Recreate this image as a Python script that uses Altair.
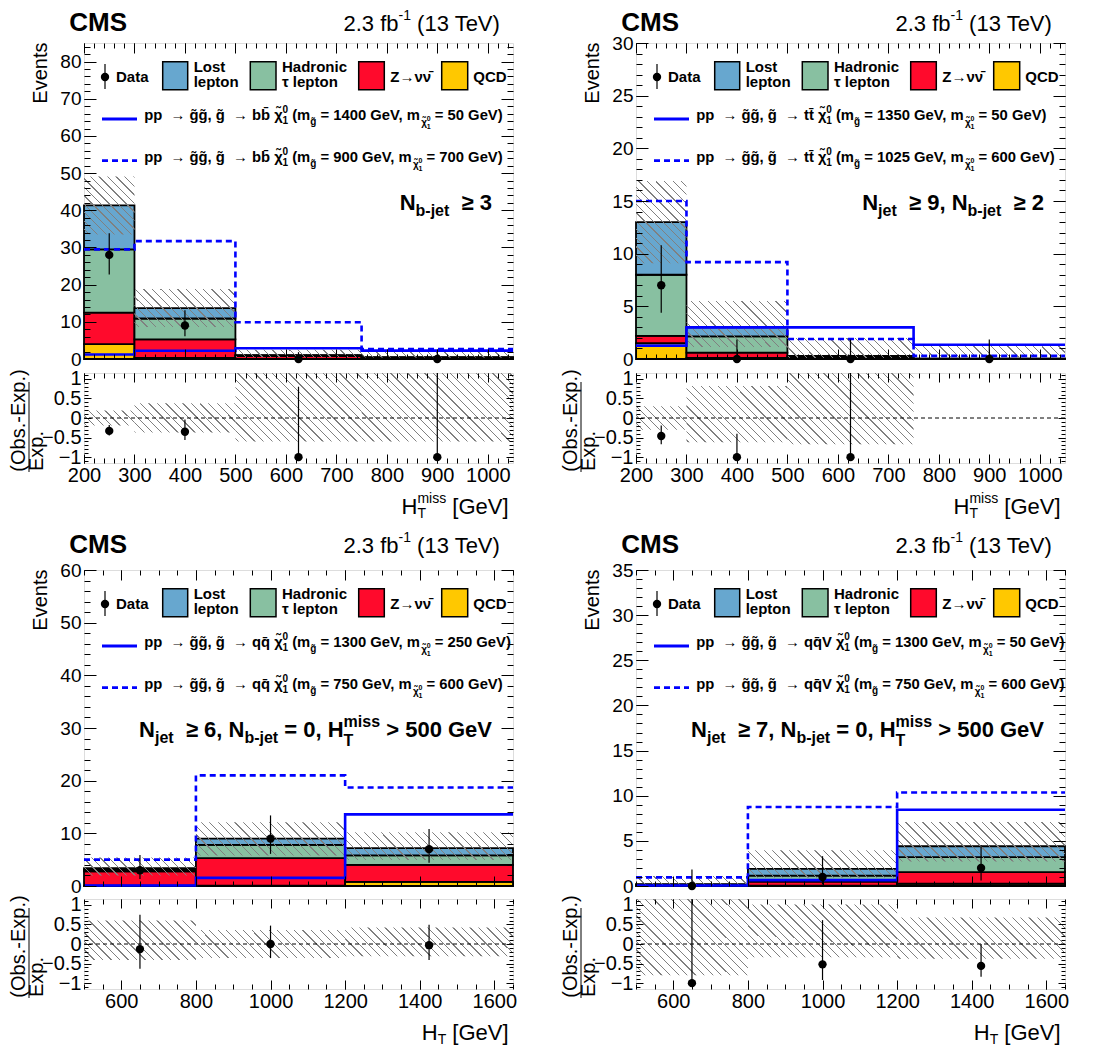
import unicodedata
import altair as alt

FONT = "Liberation Sans"
W, H, RH = 429, 316, 90
NB = "\u00a0"
TIL, BAR = "\u0303", "\u0304"

C_LOST = "#67a7cf"
C_TAU = "#88c0a1"
C_Z = "#ff0a2c"
C_QCD = "#ffc800"
C_HATCH = "#808080"
C_SIG = "#0000ff"

# ---------------- Panel 1: N_b-jet >= 3 ----------------
p1_edges = [200, 300, 500, 750, 1050]
p1_qcd = [4.0, 0.3, 0.05, 0.02]
p1_znn = [8.5, 5.0, 0.75, 0.28]
p1_tau = [17.0, 5.6, 0.15, 0.12]
p1_lost = [11.8, 2.8, 0.07, 0.10]
p1_band_lo = [33.5, 8.6, 0.45, 0.40]
p1_band_hi = [49.1, 18.8, 2.50, 2.20]
p1_rband_lo = [-0.19, -0.37, -0.60, -0.60]
p1_rband_hi = [0.19, 0.38, 1.50, 1.50]
p1_data_x = [250, 400, 625, 900]
p1_data_y = [28, 9, 0, 0]
p1_data_lo = [22.7, 6.1, 0, 0]
p1_data_hi = [33.8, 13.1, 1.84, 1.84]
p1_ratio = [-0.33, -0.35, -1.0, -1.0]
p1_ratio_lo = [-0.45, -0.56, -1.0, -1.0]
p1_ratio_hi = [-0.18, -0.04, 0.80, 2.30]
p1_sig_a = [1.2, 2.2, 2.9, 2.25]
p1_sig_b = [29.5, 31.7, 9.9, 2.7]

# ---------------- Panel 2: N_jet >= 9, N_b-jet >= 2 ----------------
p2_edges = [200, 300, 500, 750, 1050]
p2_qcd = [1.5, 0.1, 0.02, 0.01]
p2_znn = [0.7, 0.5, 0.10, 0.01]
p2_tau = [5.8, 1.55, 0.10, 0.01]
p2_lost = [5.0, 0.85, 0.08, 0.01]
p2_band_lo = [9.1, 1.15, 0.10, 0.15]
p2_band_hi = [16.9, 5.5, 2.0, 1.4]
p2_rband_lo = [-0.30, -0.62, -0.67, None]
p2_rband_hi = [0.30, 0.82, 1.50, None]
p2_data_x = [250, 400, 625, 900]
p2_data_y = [7, 0, 0, 0]
p2_data_lo = [4.4, 0, 0, 0]
p2_data_hi = [10.8, 1.84, 1.84, 1.84]
p2_ratio = [-0.46, -1.0, -1.0, None]
p2_ratio_lo = [-0.67, -1.0, -1.0, None]
p2_ratio_hi = [-0.19, -0.40, 2.0, None]
p2_sig_a = [1.27, 3.0, 3.0, 1.35]
p2_sig_b = [15.0, 9.2, 1.9, 0.3]

# ---------------- Panel 3: N_jet >= 6, N_b-jet = 0 ----------------
p3_edges = [500, 800, 1200, 1650]
p3_qcd = [0.05, 0.05, 0.8]
p3_znn = [2.75, 5.25, 3.2]
p3_tau = [0.3, 2.5, 1.8]
p3_lost = [0.3, 1.2, 1.4]
p3_band_lo = [2.0, 5.8, 4.95]
p3_band_hi = [5.4, 12.1, 10.2]
p3_rband_lo = [-0.41, -0.36, -0.31]
p3_rband_hi = [0.60, 0.36, 0.42]
p3_data_x = [650, 1000, 1425]
p3_data_y = [3, 9, 7]
p3_data_lo = [1.35, 6.1, 4.4]
p3_data_hi = [5.9, 13.4, 10.8]
p3_ratio = [-0.13, 0.0, -0.03]
p3_ratio_lo = [-0.63, -0.36, -0.41]
p3_ratio_hi = [0.75, 0.47, 0.49]
p3_sig_a = [0.1, 1.55, 13.6]
p3_sig_b = [5.0, 21.0, 18.7]

# ---------------- Panel 4: N_jet >= 7, N_b-jet = 0 ----------------
p4_edges = [500, 800, 1200, 1650]
p4_qcd = [0.02, 0.05, 0.25]
p4_znn = [0.08, 0.45, 1.28]
p4_tau = [0.05, 0.65, 1.67]
p4_lost = [0.05, 0.75, 1.2]
p4_band_lo = [0.02, 0.9, 2.7]
p4_band_hi = [1.1, 3.95, 7.1]
p4_rband_lo = [-0.80, -0.34, -0.38]
p4_rband_hi = [1.50, 1.01, 0.68]
p4_data_x = [650, 1000, 1425]
p4_data_y = [0, 1, 2]
p4_data_lo = [0, 0.17, 0.6]
p4_data_hi = [1.84, 3.3, 4.5]
p4_ratio = [-1.0, -0.52, -0.56]
p4_ratio_lo = [-1.0, -0.92, -0.84]
p4_ratio_hi = [3.0, 0.61, 0.0]
p4_sig_a = [0.05, 0.65, 8.45]
p4_sig_b = [0.95, 8.75, 10.35]

# ---------------- text width estimates (Arial / Liberation metrics) ----------------
BOLD_W = dict(zip("abcdefghijklmnopqrstuvwxyz",
                  [.556, .611, .556, .611, .556, .333, .611, .611, .278, .278, .556, .278, .889,
                   .611, .611, .611, .611, .389, .556, .333, .611, .556, .778, .556, .556, .5]))
REG_W = dict(zip("abcdefghijklmnopqrstuvwxyz",
                 [.556, .556, .5, .556, .556, .278, .556, .556, .222, .222, .5, .222, .833,
                  .556, .556, .556, .556, .333, .5, .278, .556, .5, .722, .5, .5, .5]))
CAPS = dict(zip("ABCDEFGHIJKLMNOPQRSTUVWXYZ",
                [.722, .722, .722, .722, .667, .611, .778, .722, .278, .556, .722, .611, .833,
                 .722, .778, .667, .778, .722, .667, .611, .722, .667, .944, .667, .667, .611]))
PUNCT = {" ": .278, NB: .278, "(": .333, ")": .333, ",": .278, ".": .278, "-": .333,
         "=": .584, ">": .584, "[": .333, "]": .333, "≥": .549, "→": 1.0, "χ": .556,
         "ν": .556, "τ": .45}
for _d in "0123456789":
    PUNCT[_d] = .556


def tw(s, size, bold):
    tab = BOLD_W if bold else REG_W
    w = 0.0
    for ch in s:
        if unicodedata.combining(ch):
            continue
        w += tab.get(ch, CAPS.get(ch, PUNCT.get(ch, .556)))
    return w * size


def rich(pieces, x0, y0, anchor="left", bold=True):
    """Lay out text pieces (with sub/superscripts) left to right."""
    rows, x, hold = [], 0.0, 0.0
    for text, size, dy, adv in pieces:
        w = tw(text, size, bold)
        core = text.lstrip(NB + " ")
        lead = tw(text[:len(text) - len(core)], size, bold)
        core = core.rstrip(NB + " ")
        rows.append({"px": x + lead, "py": y0 + dy, "text": core, "size": size})
        if adv:
            x += max(hold, w)
            hold = 0.0
        else:
            hold = max(hold, w)
    shift = x0 if anchor == "left" else x0 - x
    for r in rows:
        r["px"] = round(r["px"] + shift, 2)
    return rows


def sig_pieces(decay, m1, m2):
    chi = "χ" + TIL
    g = "g" + TIL
    fs = 14.8
    head = f"pp{NB}{NB}→{NB}{g}{g},{NB}{g}{NB}{NB}→{NB}{decay}{NB}{chi}"
    return [(head, fs, 0, True), ("0", 10, -7, False), ("1", 10, 4, True),
            (f"{NB}(m", fs, 0, True), (g, 10, 5, True),
            (f"{NB}={NB}{m1}{NB}GeV,{NB}m", fs, 0, True),
            (chi, 10, 6, True), ("0", 7, 1, False), ("1", 7, 9, True),
            (f"{NB}={NB}{m2}{NB}GeV)", fs, 0, True)]


def region_pieces(kind):
    ge = f"{NB}{NB}≥{NB}"
    if kind == 1:
        return [("N", 22, 0, True), ("b-jet", 16, 6, True), (ge + "3", 22, 0, True)]
    if kind == 2:
        return [("N", 22, 0, True), ("jet", 16, 6, True), (ge + f"9,{NB}N", 22, 0, True),
                ("b-jet", 16, 6, True), (ge + "2", 22, 0, True)]
    n = "6" if kind == 3 else "7"
    return [("N", 22, 0, True), ("jet", 16, 6, True), (ge + f"{n},{NB}N", 22, 0, True),
            ("b-jet", 16, 6, True), (f"{NB}={NB}0,{NB}H", 22, 0, True),
            ("miss", 16, -10, False), ("T", 16, 9, True),
            (f"{NB}>{NB}500{NB}GeV", 22, 0, True)]


def frange(a, b, step):
    out, k = [], 0
    while a + k * step <= b + 1e-9:
        out.append(round(a + k * step, 6))
        k += 1
    return out


def hatch(w, h, x0px, ybot, period=8.5, lw=1.0):
    w = max(float(w), 1.0)
    h = max(float(h), 1.0)
    tot = w + h
    s = tot / (w * w + h * h)
    clear = "rgba(255,255,255,0)"
    phase = (-(x0px - ybot)) % period
    thick = lw * 1.4142
    stops = [{"offset": 0, "color": clear}]
    c = phase
    while c < tot:
        a = c / tot
        b = min((c + thick) / tot, 1.0)
        stops += [{"offset": round(a, 5), "color": clear}, {"offset": round(a, 5), "color": C_HATCH},
                  {"offset": round(b, 5), "color": C_HATCH}, {"offset": round(b, 5), "color": clear}]
        c += period
    stops.append({"offset": 1, "color": clear})
    return {"gradient": "linear", "x1": 0, "y1": 1, "x2": round(w * s, 5),
            "y2": round(1 - h * s, 5), "stops": stops}


def mk(ymax, ymaj, ymin, xmaj, xmin, xlab, decay, m1, m2, region, pre):
    g = globals()
    d = {k: g[f"{pre}_{k}"] for k in ["edges", "qcd", "znn", "tau", "lost", "band_lo", "band_hi",
                                        "rband_lo", "rband_hi", "data_x", "data_y", "data_lo",
                                        "data_hi", "ratio", "ratio_lo", "ratio_hi", "sig_a", "sig_b"]}
    d.update(ymax=ymax, ymaj=ymaj, ymin=ymin, xmaj=xmaj, xmin=xmin, xlab=xlab,
             decay=decay, m1=m1, m2=m2, region=region)
    return d


P1 = mk(85, frange(0, 80, 10), frange(0, 84, 2), frange(200, 1000, 100),
        frange(200, 1050, 20), "miss", "b" + "b" + BAR, ("1400", "50"), ("900", "700"), 1, "p1")
P2 = mk(30, frange(0, 30, 5), frange(0, 30, 1), frange(200, 1000, 100),
        frange(200, 1050, 20), "miss", "t" + "t" + BAR, ("1350", "50"), ("1025", "600"), 2, "p2")
P3 = mk(60, frange(0, 60, 10), frange(0, 60, 2), frange(600, 1600, 200),
        frange(500, 1650, 50), "ht", "q" + "q" + BAR, ("1300", "250"), ("750", "600"), 3, "p3")
P4 = mk(35, frange(0, 35, 5), frange(0, 35, 1), frange(600, 1600, 200),
        frange(500, 1650, 50), "ht", "q" + "q" + BAR + "V", ("1300", "50"), ("750", "600"), 4, "p4")


def px_layer(rows, mark):
    return alt.Chart(alt.Data(values=rows)).mark_text(**mark).encode(
        x=alt.X("px:Q", scale=None, axis=None),
        y=alt.Y("py:Q", scale=None, axis=None),
        text=alt.Text("text:N"),
        size=alt.Size("size:Q", scale=None, legend=None))


def text_layers(rows, bold):
    return px_layer(rows, dict(align="left", baseline="alphabetic", font=FONT,
                               fontWeight="bold" if bold else "normal", color="black"))


def axis_layers(xs, ys, xdom, ydom, xmaj, xmin, ymaj, ymin, tx, txm, ty, tym,
                xlabels, ytitle, yfmt, ylab_size):
    d = alt.Data(values=[{"a": xdom[0], "b": ydom[0]}])
    common = dict(domain=False, grid=False, ticks=True, tickColor="black", tickWidth=1,
                  labelFlush=False, labelOverlap=False, zindex=2, labelColor="black",
                  labelFont=FONT)

    def lay(xax, yax):
        return alt.Chart(d).mark_point(opacity=0, size=0).encode(
            x=alt.X("a:Q", scale=xs, axis=xax), y=alt.Y("b:Q", scale=ys, axis=yax))

    yl_kw = dict(title=None)
    if ytitle:
        yl_kw = dict(title=ytitle, titleAnchor="end", titleFontSize=20, titleFontWeight="normal",
                     titleFont=FONT, titlePadding=9, titleColor="black", titleY=-1)
    ax_b = alt.Axis(orient="bottom", values=xmaj, tickSize=tx, offset=-tx, labels=xlabels,
                    labelFontSize=20, labelPadding=2, format="d", title=None, **common)
    ax_t = alt.Axis(orient="top", values=xmaj, tickSize=tx, offset=-tx, labels=False,
                    title=None, **common)
    ax_bm = alt.Axis(orient="bottom", values=xmin, tickSize=txm, offset=-txm, labels=False,
                     title=None, **common)
    ax_tm = alt.Axis(orient="top", values=xmin, tickSize=txm, offset=-txm, labels=False,
                     title=None, **common)
    ay_l = alt.Axis(orient="left", values=ymaj, tickSize=ty, offset=-ty, labels=True,
                    labelFontSize=ylab_size, labelPadding=3, format=yfmt, **common, **yl_kw)
    ay_r = alt.Axis(orient="right", values=ymaj, tickSize=ty, offset=-ty, labels=False,
                    title=None, **common)
    ay_lm = alt.Axis(orient="left", values=ymin, tickSize=tym, offset=-tym, labels=False,
                     title=None, **common)
    ay_rm = alt.Axis(orient="right", values=ymin, tickSize=tym, offset=-tym, labels=False,
                     title=None, **common)
    return [lay(ax_b, ay_l), lay(ax_t, ay_r), lay(ax_bm, ay_lm), lay(ax_tm, ay_rm)]


def main_chart(P, head_base):
    e = P["edges"]
    xdom = [e[0], e[-1]]
    ydom = [0, P["ymax"]]
    xs = alt.Scale(domain=xdom, nice=False, zero=False)
    ys = alt.Scale(domain=ydom, nice=False, zero=False)

    def X(f):
        return alt.X(f, type="quantitative", scale=xs, axis=None)

    def Y(f):
        return alt.Y(f, type="quantitative", scale=ys, axis=None)

    srows = []
    for i in range(len(e) - 1):
        base = 0.0
        for comp, col in (("qcd", C_QCD), ("znn", C_Z), ("tau", C_TAU), ("lost", C_LOST)):
            v = P[comp][i]
            srows.append({"x0": e[i], "x1": e[i + 1], "y0": base, "y1": base + v, "col": col})
            base += v
    stack = alt.Chart(alt.Data(values=srows)).mark_rect(stroke="black", strokeWidth=1.8).encode(
        x=X("x0"), x2="x1", y=Y("y0"), y2="y1", fill=alt.Fill("col:N", scale=None))

    hrows = []
    for i in range(len(e) - 1):
        lo, hi = P["band_lo"][i], P["band_hi"][i]
        w = (e[i + 1] - e[i]) / (xdom[1] - xdom[0]) * W
        h = (hi - lo) / P["ymax"] * H
        x0px = (e[i] - xdom[0]) / (xdom[1] - xdom[0]) * W
        ybot = H - lo / P["ymax"] * H
        hrows.append({"x0": e[i], "x1": e[i + 1], "y0": lo, "y1": hi, "g": hatch(w, h, x0px, ybot)})
    band = alt.Chart(alt.Data(values=hrows)).mark_rect(strokeWidth=0).encode(
        x=X("x0"), x2="x1", y=Y("y0"), y2="y1", fill=alt.Fill("g:N", scale=None))

    def steps(vals):
        return [{"x": e[i], "y": vals[i]} for i in range(len(vals))] + [{"x": e[-1], "y": vals[-1]}]

    sig_a = alt.Chart(alt.Data(values=steps(P["sig_a"]))).mark_line(
        interpolate="step-after", color=C_SIG, strokeWidth=2.6).encode(x=X("x"), y=Y("y"))
    sig_b = alt.Chart(alt.Data(values=steps(P["sig_b"]))).mark_line(
        interpolate="step-after", color=C_SIG, strokeWidth=2.6, strokeDash=[6, 4]).encode(
        x=X("x"), y=Y("y"))

    drows = [{"x": P["data_x"][i], "y": P["data_y"][i], "lo": P["data_lo"][i], "hi": P["data_hi"][i]}
             for i in range(len(P["data_x"]))]
    derr = alt.Chart(alt.Data(values=drows)).mark_rule(color="black", strokeWidth=1.2).encode(
        x=X("x"), y=Y("lo"), y2="hi")
    dpts = alt.Chart(alt.Data(values=drows)).mark_circle(size=70, color="black", opacity=1).encode(
        x=X("x"), y=Y("y"))

    # ---- legend (inside the frame) ----
    sw = [{"px": 78.7, "px2": 103.7, "py": 18.7, "py2": 46.7, "col": C_LOST},
          {"px": 166.3, "px2": 192.0, "py": 18.7, "py2": 46.7, "col": C_TAU},
          {"px": 274.7, "px2": 300.3, "py": 18.7, "py2": 46.7, "col": C_Z},
          {"px": 357.7, "px2": 383.7, "py": 18.7, "py2": 46.7, "col": C_QCD}]
    swatch = alt.Chart(alt.Data(values=sw)).mark_rect(stroke="black", strokeWidth=1.5).encode(
        x=alt.X("px:Q", scale=None, axis=None), x2="px2",
        y=alt.Y("py:Q", scale=None, axis=None), y2="py2", fill=alt.Fill("col:N", scale=None))
    leg_pt = alt.Chart(alt.Data(values=[{"px": 21, "py": 34, "py2": 21, "py3": 46}]))
    leg_dot = leg_pt.mark_circle(size=70, color="black", opacity=1).encode(
        x=alt.X("px:Q", scale=None, axis=None), y=alt.Y("py:Q", scale=None, axis=None))
    leg_bar = leg_pt.mark_rule(color="black", strokeWidth=1.2).encode(
        x=alt.X("px:Q", scale=None, axis=None), y=alt.Y("py2:Q", scale=None, axis=None), y2="py3")
    leg_l1 = alt.Chart(alt.Data(values=[{"px": 18, "px2": 53, "py": 76}])).mark_rule(
        color=C_SIG, strokeWidth=2.8).encode(
        x=alt.X("px:Q", scale=None, axis=None), x2="px2", y=alt.Y("py:Q", scale=None, axis=None))
    leg_l2 = alt.Chart(alt.Data(values=[{"px": 18, "px2": 53, "py": 117.7}])).mark_rule(
        color=C_SIG, strokeWidth=2.8, strokeDash=[6, 4]).encode(
        x=alt.X("px:Q", scale=None, axis=None), x2="px2", y=alt.Y("py:Q", scale=None, axis=None))

    bold_rows = [
        {"px": 32, "py": 39.4, "text": "Data", "size": 15},
        {"px": 109.7, "py": 28.7, "text": "Lost", "size": 15},
        {"px": 109.7, "py": 44.3, "text": "lepton", "size": 15},
        {"px": 198, "py": 28.7, "text": "Hadronic", "size": 15},
        {"px": 198, "py": 44.3, "text": "τ lepton", "size": 15},
        {"px": 306.3, "py": 38.7, "text": "Z→νν" + BAR, "size": 15},
        {"px": 389.3, "py": 38.7, "text": "QCD", "size": 15},
        {"px": -14.7, "py": head_base, "text": "CMS", "size": 26},
    ]
    bold_rows += rich(sig_pieces(P["decay"], *P["m1"]), 60.3, 77)
    bold_rows += rich(sig_pieces(P["decay"], *P["m2"]), 60.3, 119.3)
    bold_rows += rich(region_pieces(P["region"]), 408, 167, anchor="right")
    reg_rows = rich([("2.3 fb", 22, 0, True), ("-1", 14, -11, True), (f"{NB}(13 TeV)", 22, 0, True)],
                    418.7, head_base, anchor="right", bold=False)

    layers = [stack, band, sig_a, sig_b, derr, dpts, swatch, leg_bar, leg_dot, leg_l1, leg_l2,
              text_layers(bold_rows, True), text_layers(reg_rows, False)]
    layers += axis_layers(xs, ys, xdom, ydom, P["xmaj"], P["xmin"], P["ymaj"], P["ymin"],
                          10, 5, 12, 6, False, "Events", "d", 19)
    return alt.layer(*layers).resolve_axis(x="independent", y="independent").properties(
        width=W, height=H)


def ratio_chart(P):
    e = P["edges"]
    xdom = [e[0], e[-1]]
    ydom = [-1.15, 1.15]
    xs = alt.Scale(domain=xdom, nice=False, zero=False)
    ys = alt.Scale(domain=ydom, nice=False, zero=False)

    def X(f):
        return alt.X(f, type="quantitative", scale=xs, axis=None)

    def Y(f):
        return alt.Y(f, type="quantitative", scale=ys, axis=None)

    hrows = []
    for i in range(len(e) - 1):
        lo, hi = P["rband_lo"][i], P["rband_hi"][i]
        if lo is None:
            continue
        w = (e[i + 1] - e[i]) / (xdom[1] - xdom[0]) * W
        h = (hi - lo) / (ydom[1] - ydom[0]) * RH
        x0px = (e[i] - xdom[0]) / (xdom[1] - xdom[0]) * W
        ybot = RH - (lo - ydom[0]) / (ydom[1] - ydom[0]) * RH
        hrows.append({"x0": e[i], "x1": e[i + 1], "y0": lo, "y1": hi, "g": hatch(w, h, x0px, ybot)})
    band = alt.Chart(alt.Data(values=hrows)).mark_rect(strokeWidth=0, clip=True).encode(
        x=X("x0"), x2="x1", y=Y("y0"), y2="y1", fill=alt.Fill("g:N", scale=None))

    zero = alt.Chart(alt.Data(values=[{"z": 0}])).mark_rule(
        color="black", strokeWidth=1, strokeDash=[4, 3]).encode(y=Y("z"))

    rrows = [{"x": P["data_x"][i], "r": P["ratio"][i], "lo": P["ratio_lo"][i], "hi": P["ratio_hi"][i]}
             for i in range(len(P["data_x"])) if P["ratio"][i] is not None]
    rerr = alt.Chart(alt.Data(values=rrows)).mark_rule(color="black", strokeWidth=1.2, clip=True).encode(
        x=X("x"), y=Y("lo"), y2="hi")
    rpts = alt.Chart(alt.Data(values=rrows)).mark_circle(size=70, color="black", opacity=1).encode(
        x=X("x"), y=Y("r"))

    rot = [{"px": -65, "py": 47.5, "text": "(Obs.-Exp.)", "size": 20},
           {"px": -47, "py": 78, "text": "Exp.", "size": 20}]
    rot_layer = px_layer(rot, dict(align="center", baseline="middle", angle=270, font=FONT,
                                   color="black"))
    frac = alt.Chart(alt.Data(values=[{"px": -55, "py": 9, "py2": 99}])).mark_rule(
        color="black", strokeWidth=1).encode(
        x=alt.X("px:Q", scale=None, axis=None), y=alt.Y("py:Q", scale=None, axis=None), y2="py2")

    if P["xlab"] == "miss":
        pcs = [("H", 22, 0, True), ("miss", 14, -11, False), ("T", 14, 4, True),
               (f"{NB}[GeV]", 22, 0, True)]
    else:
        pcs = [("H", 22, 0, True), ("T", 14, 4, True), (f"{NB}[GeV]", 22, 0, True)]
    xt = rich(pcs, 427, RH + 51, anchor="right", bold=False)

    layers = [band, zero, rerr, rpts, rot_layer, frac, text_layers(xt, False)]
    layers += axis_layers(xs, ys, xdom, ydom, P["xmaj"], P["xmin"], [-1, -0.5, 0, 0.5, 1],
                          frange(-1.1, 1.1, 0.1), 9, 5, 7, 4, True, None, ".1~f", 20)
    return alt.layer(*layers).resolve_axis(x="independent", y="independent").properties(
        width=W, height=RH)


def panel(P, gap, head_base):
    return alt.vconcat(main_chart(P, head_base), ratio_chart(P), spacing=gap, bounds="flush")


row1 = alt.hconcat(panel(P1, 14, -12), panel(P2, 14, -12), spacing=41)
row2 = alt.hconcat(panel(P3, 13, -17), panel(P4, 13, -17), spacing=41)
chart = alt.vconcat(row1, row2, spacing=8).properties(
    padding={"left": 0, "top": 0, "right": 4, "bottom": 0})
chart = chart.configure_view(stroke="black", strokeWidth=2).configure(background="white")

chart.save("out.html", embed_options={"renderer": "svg", "actions": False})
